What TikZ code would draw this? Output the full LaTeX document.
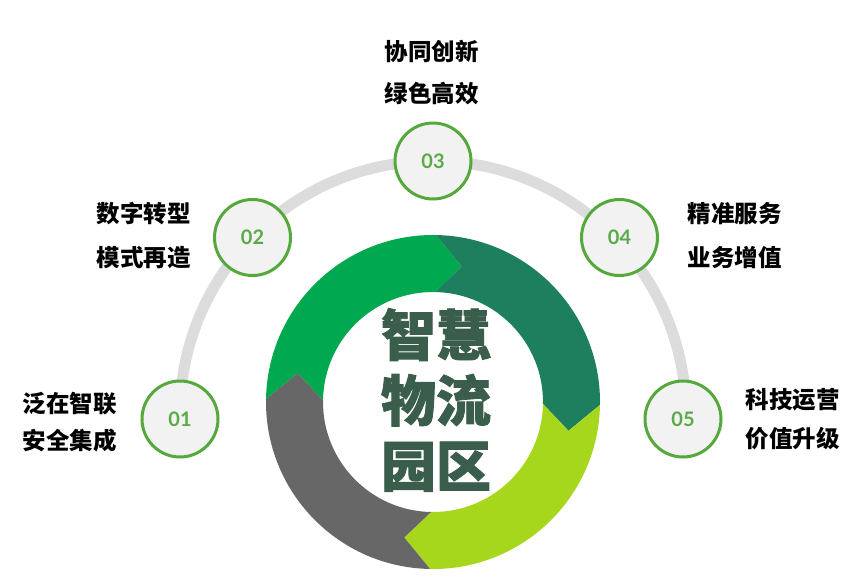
\documentclass[tikz,border=0pt]{standalone}
\usepackage{fontspec}
\newfontfamily\cjk{Noto Sans CJK SC}
\newfontfamily\cjkfat{Noto Sans CJK SC}[BoldFeatures={FakeBold=1.5}]
\newfontfamily\latofont{Lato}
\definecolor{segA}{HTML}{00A94F}
\definecolor{segB}{HTML}{1E7F5F}
\definecolor{segC}{HTML}{A6D71C}
\definecolor{segD}{HTML}{676767}
\definecolor{trackgray}{HTML}{DCDCDC}
\definecolor{ringedge}{HTML}{55A83C}
\definecolor{ringfill}{HTML}{F2F2F2}
\definecolor{numgreen}{HTML}{5AAA46}
\definecolor{titlegreen}{HTML}{3B5E4C}
\begin{document}
\begin{tikzpicture}[x=1pt,y=1pt,
  numcircle/.style={circle,draw=ringedge,line width=3pt,fill=ringfill,
    minimum size=76pt,inner sep=0pt,text=numgreen,
    font=\latofont\bfseries\fontsize{20pt}{24pt}\selectfont},
  sidetext/.style={align=center,inner sep=0pt,text=black},
]
\useasboundingbox (0,0) rectangle (862,-582);
% gray track arc
\coordinate (arcC) at (433,-414);
\draw[trackgray,line width=11pt] ([shift={(181:253pt)}]arcC) arc[start angle=181,end angle=-1,radius=253pt];
% ring segments
\coordinate (ringC) at (433,-402);
\begin{scope}[shift={(ringC)}]
\foreach \a/\col in {179/segA,89/segB,-1/segC,-91/segD}{
  \pgfmathsetmacro{\b}{\a-90}
  \pgfmathsetmacro{\tb}{\a-101}
  \pgfmathsetmacro{\ta}{\a-11}
  \fill[\col] (\a:167pt) arc[start angle=\a,end angle=\b,radius=167pt]
     -- (\tb:138.5pt) -- (\b:110pt)
     arc[start angle=\b,end angle=\a,radius=110pt]
     -- (\ta:138.5pt) -- cycle;
}
\end{scope}
\node[inner sep=0pt,align=center,text=titlegreen,
  font=\cjkfat\bfseries\fontsize{55pt}{65.5pt}\selectfont] (title) at (436,-400) {智慧\\物流\\园区};
% number circles
\node[numcircle] (c1) at (180,-419) {01};
\node[numcircle] (c2) at (252.5,-237.5) {02};
\node[numcircle] (c3) at (433,-161) {03};
\node[numcircle] (c4) at (619.5,-237.5) {04};
\node[numcircle] (c5) at (683,-419) {05};
% side texts
\node[sidetext,font=\cjk\bfseries\fontsize{23.5pt}{37pt}\selectfont] (t1) at (70,-422) {泛在智联\\安全集成};
\node[sidetext,font=\cjk\bfseries\fontsize{23.5pt}{44pt}\selectfont] (t2) at (143.5,-235.5) {数字转型\\模式再造};
\node[sidetext,font=\cjk\bfseries\fontsize{23.5pt}{42pt}\selectfont] (t3) at (431.5,-73) {协同创新\\绿色高效};
\node[sidetext,font=\cjk\bfseries\fontsize{23.5pt}{43.5pt}\selectfont] (t4) at (734.5,-235.5) {精准服务\\业务增值};
\node[sidetext,font=\cjk\bfseries\fontsize{23.5pt}{39pt}\selectfont] (t5) at (792.5,-419.5) {科技运营\\价值升级};
\end{tikzpicture}
\end{document}
